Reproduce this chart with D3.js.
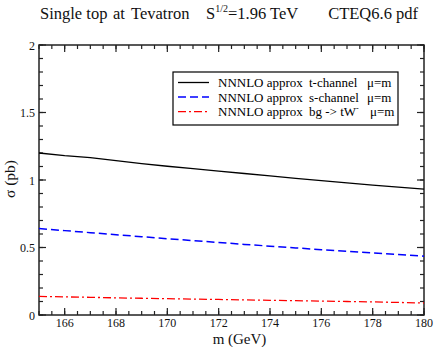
<!DOCTYPE html>
<html>
<head>
<meta charset="utf-8">
<script src="https://cdn.jsdelivr.net/npm/d3@7"></script>
<style>
  body { margin: 0; background: #fff; }
  svg text { font-family: "Liberation Serif", "Times New Roman", "DejaVu Serif", serif; fill: #111; }
</style>
</head>
<body>
<svg id="chart" width="436" height="347"></svg>
<script>
// masses (GeV)
var masses = [165, 166, 167, 168, 169, 170, 171, 172, 173, 174, 175, 176, 177, 178, 179, 180];
// cross sections (pb)
var tChannel = [1.200, 1.180, 1.165, 1.143, 1.122, 1.102, 1.084, 1.066, 1.048, 1.030, 1.012, 0.995, 0.978, 0.962, 0.947, 0.932];
var sChannel = [0.641, 0.625, 0.610, 0.595, 0.580, 0.565, 0.551, 0.537, 0.523, 0.510, 0.497, 0.484, 0.472, 0.460, 0.448, 0.436];
var tWChannel = [0.138, 0.134, 0.131, 0.127, 0.124, 0.121, 0.118, 0.115, 0.112, 0.109, 0.106, 0.103, 0.100, 0.097, 0.093, 0.089];
var xTicks = [166, 168, 170, 172, 174, 176, 178, 180];
var yTicks = [0, 0.5, 1, 1.5, 2];

var series = [
  { parts: ["NNNLO approx", "t-channel", "\u03bc=m"], values: tChannel, color: "#000000", dash: null, width: 1.3 },
  { parts: ["NNNLO approx", "s-channel", "\u03bc=m"], values: sChannel, color: "#0000ff", dash: "8,4", width: 1.5 },
  { parts: ["NNNLO approx", "bg -> tW", "\u03bc=m"], sup: "-", values: tWChannel, color: "#ff0000", dash: "8,3,2,3", width: 1.3 }
];

var svg = d3.select("#chart");
var margin = { top: 45, right: 12, bottom: 32, left: 39 };
var width = 436 - margin.left - margin.right;
var height = 347 - margin.top - margin.bottom;

var x = d3.scaleLinear().domain([165, 180]).range([0, width]);
var y = d3.scaleLinear().domain([0, 2]).range([height, 0]);

var g = svg.append("g").attr("transform", `translate(${margin.left},${margin.top})`);

// minor + major ticks on all four sides, pointing inward
var xMinor = d3.range(165, 180.01, 0.5);
var yMinor = d3.range(0, 2.001, 0.1);

function tickMarks(sel, vals, len, horiz) {
  vals.forEach(function(v) {
    if (horiz) {
      sel.append("line").attr("x1", x(v)).attr("x2", x(v)).attr("y1", height).attr("y2", height - len);
      sel.append("line").attr("x1", x(v)).attr("x2", x(v)).attr("y1", 0).attr("y2", len);
    } else {
      sel.append("line").attr("y1", y(v)).attr("y2", y(v)).attr("x1", 0).attr("x2", len);
      sel.append("line").attr("y1", y(v)).attr("y2", y(v)).attr("x1", width).attr("x2", width - len);
    }
  });
}
var ticks = g.append("g").attr("stroke", "#222").attr("stroke-width", 1.2);
tickMarks(ticks, xMinor, 4, true);
tickMarks(ticks, xTicks, 7, true);
tickMarks(ticks, yMinor, 4, false);
tickMarks(ticks, yTicks, 7, false);

// frame
g.append("rect").attr("width", width).attr("height", height)
  .attr("fill", "none").attr("stroke", "#222").attr("stroke-width", 1.5);

// tick labels
g.selectAll(".xl").data(xTicks).enter().append("text")
  .attr("x", d => x(d)).attr("y", height + 12)
  .attr("text-anchor", "middle").style("font-size", "12px").text(d => d);
g.selectAll(".yl").data(yTicks).enter().append("text")
  .attr("x", -4).attr("y", d => y(d) + 4.5)
  .attr("text-anchor", "end").style("font-size", "12px").text(d => d);

// axis titles
g.append("text").attr("x", width / 2 + 8).attr("y", height + 29)
  .attr("text-anchor", "middle").style("font-size", "15px").text("m (GeV)");
svg.append("text").attr("transform", "translate(15,179) rotate(-90)")
  .attr("text-anchor", "middle").style("font-size", "15.5px").text("\u03c3 (pb)");

// curves
var line = d3.line().x((d, i) => x(masses[i])).y(d => y(d));
series.forEach(function(s) {
  g.append("path").datum(s.values).attr("d", line)
    .attr("fill", "none").attr("stroke", s.color)
    .attr("stroke-width", s.width)
    .attr("stroke-dasharray", s.dash);
});

// legend
var leg = svg.append("g").attr("transform", "translate(173,72)");
leg.append("rect").attr("width", 225).attr("height", 53)
  .attr("fill", "#fff").attr("stroke", "#000").attr("stroke-width", 1.2);
var partX = [[45, 136, 194], [45, 136, 194], [45, 136, 197]];
series.forEach(function(s, i) {
  var ly = 10.5 + i * 14.6;
  leg.append("line").attr("x1", 5).attr("x2", 36).attr("y1", ly).attr("y2", ly)
    .attr("stroke", s.color).attr("stroke-width", s.width).attr("stroke-dasharray", s.dash);
  s.parts.forEach(function(p, j) {
    var t = leg.append("text").attr("x", partX[i][j]).attr("y", ly + 4.5)
      .style("font-size", "13px").style("fill", "#000").text(p);
    if (j === 1 && s.sup) {
      t.append("tspan").attr("dy", -5).style("font-size", "8px").text(s.sup);
    }
  });
});

// title
var tg = svg.append("g").style("fill", "#000");
tg.append("text").attr("x", 40).attr("y", 19).style("font-size", "16.5px").text("Single top");
tg.append("text").attr("x", 113).attr("y", 19).style("font-size", "16.5px").text("at");
tg.append("text").attr("x", 131).attr("y", 19).style("font-size", "16.5px").text("Tevatron");
var st = tg.append("text").attr("x", 206).attr("y", 19).style("font-size", "16.5px");
st.append("tspan").text("S");
st.append("tspan").attr("dy", -7).style("font-size", "10px").text("1/2");
st.append("tspan").attr("dy", 7).text("=1.96 TeV");
tg.append("text").attr("x", 418).attr("y", 19).attr("text-anchor", "end")
  .style("font-size", "16.5px").text("CTEQ6.6 pdf");
</script>
</body>
</html>
